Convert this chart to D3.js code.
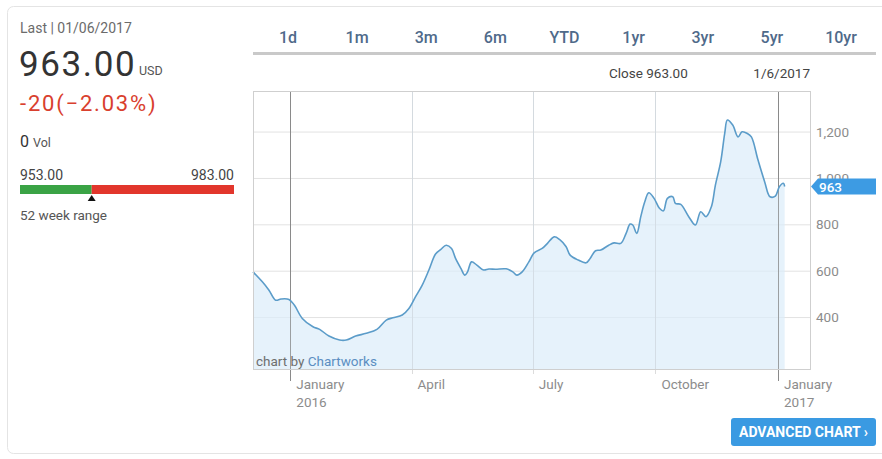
<!DOCTYPE html>
<html>
<head>
<meta charset="utf-8">
<script src="https://cdn.jsdelivr.net/npm/d3@7"></script>
<style>
  body { margin: 0; background: #fff; }
  svg { display: block; font-family: Roboto, "Open Sans", sans-serif; }
</style>
</head>
<body>
<svg id="chart" width="882" height="459"></svg>
<script>
// price history
const dates = [
  "2015-12-04", "2015-12-11", "2015-12-16", "2015-12-21", "2015-12-25", "2015-12-31",
  "2016-01-04", "2016-01-10", "2016-01-18", "2016-01-23", "2016-01-30", "2016-02-07",
  "2016-02-12", "2016-02-19", "2016-02-27", "2016-03-06", "2016-03-13", "2016-03-18",
  "2016-03-25", "2016-03-30", "2016-04-04", "2016-04-09", "2016-04-14", "2016-04-19",
  "2016-04-23", "2016-04-27", "2016-05-01", "2016-05-04", "2016-05-08", "2016-05-11",
  "2016-05-13", "2016-05-16", "2016-05-20", "2016-05-25", "2016-05-29", "2016-06-03",
  "2016-06-11", "2016-06-16", "2016-06-19", "2016-06-23", "2016-06-28", "2016-07-02",
  "2016-07-08", "2016-07-12", "2016-07-17", "2016-07-21", "2016-07-26", "2016-07-29",
  "2016-08-04", "2016-08-10", "2016-08-13", "2016-08-17", "2016-08-21", "2016-08-27",
  "2016-08-31", "2016-09-05", "2016-09-09", "2016-09-12", "2016-09-14", "2016-09-17",
  "2016-09-20", "2016-09-23", "2016-09-26", "2016-09-30", "2016-10-04", "2016-10-07",
  "2016-10-10", "2016-10-14", "2016-10-16", "2016-10-20", "2016-10-26", "2016-10-31",
  "2016-11-04", "2016-11-08", "2016-11-12", "2016-11-15", "2016-11-19", "2016-11-22",
  "2016-11-24", "2016-11-28", "2016-12-02", "2016-12-05", "2016-12-09", "2016-12-12",
  "2016-12-17", "2016-12-22", "2016-12-26", "2016-12-30", "2017-01-02", "2017-01-05",
  "2017-01-06"
];
const closes = [
  595, 552, 516, 473, 478, 476,
  452, 394, 358, 347, 318, 301,
  301, 318, 330, 347, 387, 397,
  409, 437, 488, 538, 603, 672,
  692, 710, 696, 653, 610, 581,
  595, 638, 624, 603, 607, 606,
  608, 595, 581, 595, 638, 677,
  696, 718, 746, 735, 703, 667,
  646, 634, 653, 686, 689, 710,
  720, 718, 761, 801, 797, 761,
  833, 897, 936, 912, 869, 858,
  912, 919, 890, 886, 833, 797,
  854, 833, 876, 969, 1070, 1192,
  1250, 1228, 1177, 1199, 1192, 1177,
  1077, 983, 919, 922, 962, 977,
  963
];

const yTicks = [400, 600, 800, 1000, 1200];
const monthTicks = ["2016-01-01", "2016-04-01", "2016-07-01", "2016-10-01", "2017-01-01"];
const monthLabels = [["January", "2016"], ["April"], ["July"], ["October"], ["January", "2017"]];
const ranges = ["1d", "1m", "3m", "6m", "YTD", "1yr", "3yr", "5yr", "10yr"];

const lastPrice = 963, change = -20, changePct = -2.03;
const low52 = 953, high52 = 983;

const parse = d3.timeParse("%Y-%m-%d");
const data = dates.map((d, i) => ({ date: parse(d), close: closes[i] }));

const svg = d3.select("#chart");

// card outline
svg.append("rect")
  .attr("x", 7.5).attr("y", 6.5)
  .attr("width", 900).attr("height", 447)
  .attr("rx", 6)
  .attr("fill", "none")
  .attr("stroke", "#e4e4e4");

// ---- left quote panel ----
const left = svg.append("g");
left.append("text").attr("x", 20).attr("y", 33)
  .attr("font-size", 14).attr("fill", "#6b6b6b")
  .text("Last | 01/06/2017");

left.append("text").attr("x", 19).attr("y", 76)
  .attr("font-size", 35).attr("fill", "#333")
  .attr("letter-spacing", 1.6)
  .text(d3.format(".2f")(lastPrice));
left.append("text").attr("x", 139).attr("y", 75)
  .attr("font-size", 12.5).attr("fill", "#555")
  .text("USD");

left.append("text").attr("x", 20).attr("y", 111)
  .attr("font-size", 22).attr("fill", "#d9402e")
  .attr("letter-spacing", 1.8)
  .text(`${change}(${d3.format(".2f")(changePct)}%)`);

const vol = left.append("text").attr("x", 20).attr("y", 147).attr("fill", "#333");
vol.append("tspan").attr("font-size", 16).text("0");
vol.append("tspan").attr("font-size", 12.5).attr("fill", "#555").attr("dx", 4).text("Vol");

left.append("text").attr("x", 20).attr("y", 180)
  .attr("font-size", 14).attr("fill", "#444")
  .text(d3.format(".2f")(low52));
left.append("text").attr("x", 234).attr("y", 180)
  .attr("font-size", 14).attr("fill", "#444").attr("text-anchor", "end")
  .text(d3.format(".2f")(high52));

// 52 week range bar
const rangeX = d3.scaleLinear().domain([0, 1]).range([20, 234]);
const markFrac = 0.335;
left.append("rect").attr("x", rangeX(0)).attr("y", 185)
  .attr("width", rangeX(markFrac) - rangeX(0)).attr("height", 9)
  .attr("fill", "#3aa345");
left.append("rect").attr("x", rangeX(markFrac)).attr("y", 185)
  .attr("width", rangeX(1) - rangeX(markFrac)).attr("height", 9)
  .attr("fill", "#e2362c");
left.append("path")
  .attr("d", `M${rangeX(markFrac)},195 l4,6 h-8 z`)
  .attr("fill", "#111");
left.append("text").attr("x", 20).attr("y", 220)
  .attr("font-size", 13.5).attr("fill", "#555")
  .text("52 week range");

// ---- range tabs ----
const tabX = d3.scalePoint().domain(ranges).range([288, 841]);
svg.append("g").selectAll("text")
  .data(ranges)
  .join("text")
  .attr("x", d => tabX(d))
  .attr("y", 43)
  .attr("text-anchor", "middle")
  .attr("font-size", 16)
  .attr("font-weight", 500)
  .attr("fill", "#4f6a8a")
  .text(d => d);
svg.append("line")
  .attr("x1", 253).attr("x2", 876)
  .attr("y1", 53.5).attr("y2", 53.5)
  .attr("stroke", "#c9c9c9").attr("stroke-width", 3);

svg.append("text").attr("x", 609).attr("y", 78)
  .attr("font-size", 13.5).attr("fill", "#444")
  .text("Close " + d3.format(".2f")(lastPrice));
svg.append("text").attr("x", 810).attr("y", 78)
  .attr("font-size", 13.5).attr("fill", "#444").attr("text-anchor", "end")
  .text("1/6/2017");

// ---- chart ----
const plot = { left: 253, right: 810, top: 91, bottom: 369 };

const x = d3.scaleTime()
  .domain([parse("2015-12-04"), parse("2017-01-25")])
  .range([plot.left, plot.right]);
const y = d3.scaleLinear()
  .domain([176, 1375])
  .range([plot.bottom, plot.top]);

const g = svg.append("g");

// horizontal grid
g.append("g")
  .attr("transform", `translate(${plot.right},0)`)
  .call(d3.axisRight(y).tickValues(yTicks).tickSize(-(plot.right - plot.left)).tickFormat(""))
  .call(a => a.select(".domain").remove())
  .call(a => a.selectAll("line").attr("stroke", "#e2e2e2"));

// vertical month grid
const mt = monthTicks.map(parse);
g.append("g").selectAll("line")
  .data(mt)
  .join("line")
  .attr("x1", d => Math.round(x(d)) + 0.5).attr("x2", d => Math.round(x(d)) + 0.5)
  .attr("y1", plot.top)
  .attr("y2", d => d.getMonth() === 0 ? 381 : 374)
  .attr("stroke", d => d.getMonth() === 0 ? "#8a8a8a" : "#dcdcdc");

// area + line
const area = d3.area()
  .x(d => x(d.date))
  .y0(plot.bottom)
  .y1(d => y(d.close))
  .curve(d3.curveCatmullRom);
const line = d3.line()
  .x(d => x(d.date))
  .y(d => y(d.close))
  .curve(d3.curveCatmullRom);

g.append("path").datum(data)
  .attr("d", area)
  .attr("fill", "#dcedfa")
  .attr("fill-opacity", 0.7);

// month grid lines faintly over the fill
g.append("g").selectAll("line")
  .data(mt)
  .join("line")
  .attr("x1", d => Math.round(x(d)) + 0.5).attr("x2", d => Math.round(x(d)) + 0.5)
  .attr("y1", plot.top).attr("y2", plot.bottom)
  .attr("stroke", d => d.getMonth() === 0 ? "#8a8a8a" : "#d0d8e0")
  .attr("stroke-opacity", 0.7);

g.append("path").datum(data)
  .attr("d", line)
  .attr("fill", "none")
  .attr("stroke", "#5b9cc9")
  .attr("stroke-width", 1.6);

// frame
g.append("rect")
  .attr("x", plot.left + 0.5).attr("y", plot.top + 0.5)
  .attr("width", plot.right - plot.left).attr("height", plot.bottom - plot.top)
  .attr("fill", "none").attr("stroke", "#cfcfcf");

// y labels
g.append("g").selectAll("text")
  .data(yTicks)
  .join("text")
  .attr("x", 816)
  .attr("y", d => y(d) + 5)
  .attr("font-size", 13.5)
  .attr("fill", "#8c8c8c")
  .text(d => d3.format(",")(d));

// x labels
const xl = g.append("g").selectAll("text")
  .data(mt)
  .join("text")
  .attr("x", d => x(d) + 6)
  .attr("y", 389)
  .attr("font-size", 13.5)
  .attr("fill", "#8c8c8c");
xl.selectAll("tspan")
  .data((d, i) => monthLabels[i])
  .join("tspan")
  .attr("x", function () { return d3.select(this.parentNode).attr("x"); })
  .attr("dy", (d, i) => i === 0 ? 0 : 18)
  .text(d => d);

// credit
const credit = g.append("text").attr("x", 256).attr("y", 366).attr("font-size", 13.5);
credit.append("tspan").attr("fill", "#6e6e6e").text("chart by ");
credit.append("tspan").attr("fill", "#5b8ec2").text("Chartworks");

// last price tag
const tagY = y(lastPrice);
g.append("path")
  .attr("d", `M811,${tagY} l7,-8 h58 v16 h-58 z`)
  .attr("fill", "#3d9be3");
g.append("text")
  .attr("x", 819).attr("y", tagY + 5)
  .attr("font-size", 13.5).attr("font-weight", 500)
  .attr("fill", "#fff")
  .text(lastPrice);

// advanced chart button
svg.append("rect")
  .attr("x", 731).attr("y", 418)
  .attr("width", 145).attr("height", 28)
  .attr("rx", 3)
  .attr("fill", "#3a9ae2");
svg.append("text")
  .attr("x", 803.5).attr("y", 437)
  .attr("text-anchor", "middle")
  .attr("font-size", 14).attr("font-weight", 700)
  .attr("fill", "#fff")
  .text("ADVANCED CHART ›");
</script>
</body>
</html>
